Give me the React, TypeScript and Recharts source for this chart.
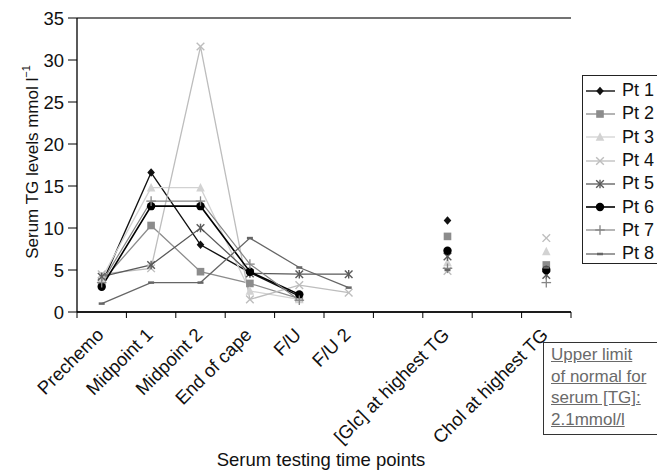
import React from "react";
import { LineChart, Line, XAxis, YAxis, CartesianGrid, Legend, Label } from "recharts";

const categories = [
  "Prechemo",
  "Midpoint 1",
  "Midpoint 2",
  "End of cape",
  "F/U",
  "F/U 2",
  " ",
  "[Glc] at highest TG",
  "  ",
  "Chol at highest TG",
];

const pt1 = [3.3, 16.6, 8.0, 4.7, 1.9, null, null, 10.9, null, 4.8];
const pt2 = [3.6, 10.3, 4.8, 3.4, 1.6, null, null, 9.0, null, 5.6];
const pt3 = [4.0, 14.8, 14.8, 2.5, 1.5, null, null, 5.9, null, 7.2];
const pt4 = [4.5, 5.2, 31.6, 1.5, 3.2, 2.3, null, 4.9, null, 8.8];
const pt5 = [4.2, 5.6, 10.0, 4.6, 4.5, 4.5, null, 6.6, null, 4.4];
const pt6 = [3.0, 12.6, 12.6, 4.8, 2.1, null, null, 7.3, null, 5.0];
const pt7 = [3.5, 13.2, 13.2, 5.7, 1.4, null, null, 5.2, null, 3.5];
const pt8 = [1.0, 3.5, 3.5, 8.8, 5.3, 2.9, null, 5.0, null, 5.3];

const seriesNames = ["Pt 1", "Pt 2", "Pt 3", "Pt 4", "Pt 5", "Pt 6", "Pt 7", "Pt 8"];
const seriesValues = [pt1, pt2, pt3, pt4, pt5, pt6, pt7, pt8];
const yTicks = [0, 5, 10, 15, 20, 25, 30, 35];

// styling per series
const styles = [
  { color: "#111", shape: "diamond", width: 1.4 },
  { color: "#8c8c8c", shape: "square", width: 1.3 },
  { color: "#d2d2d2", shape: "triangle", width: 1.3 },
  { color: "#bdbdbd", shape: "x", width: 1.3 },
  { color: "#5a5a5a", shape: "star", width: 1.3 },
  { color: "#000", shape: "circle", width: 1.6 },
  { color: "#858585", shape: "plus", width: 1.2 },
  { color: "#666", shape: "dash", width: 1.3 },
];

const data = categories.map((c, i) => {
  const row: any = { time: c };
  seriesNames.forEach((n, s) => {
    row[n] = seriesValues[s][i];
  });
  return row;
});

const font = "'Liberation Sans', Arial, sans-serif";

function Marker({ shape, cx, cy, color }: any) {
  if (cx == null || cy == null || isNaN(cx) || isNaN(cy)) return null;
  const r = 3.8;
  switch (shape) {
    case "diamond":
      return (
        <polygon
          points={`${cx},${cy - r - 0.5} ${cx + r},${cy} ${cx},${cy + r + 0.5} ${cx - r},${cy}`}
          fill={color}
        />
      );
    case "square":
      return <rect x={cx - r} y={cy - r} width={2 * r} height={2 * r} fill={color} />;
    case "triangle":
      return (
        <polygon points={`${cx},${cy - r - 1} ${cx + r + 0.5},${cy + r} ${cx - r - 0.5},${cy + r}`} fill={color} />
      );
    case "x":
      return (
        <g stroke={color} strokeWidth={1.4}>
          <line x1={cx - r} y1={cy - r} x2={cx + r} y2={cy + r} />
          <line x1={cx - r} y1={cy + r} x2={cx + r} y2={cy - r} />
        </g>
      );
    case "star":
      return (
        <g stroke={color} strokeWidth={1.4}>
          <line x1={cx - r} y1={cy - r} x2={cx + r} y2={cy + r} />
          <line x1={cx - r} y1={cy + r} x2={cx + r} y2={cy - r} />
          <line x1={cx} y1={cy - r - 0.5} x2={cx} y2={cy + r + 0.5} />
        </g>
      );
    case "circle":
      return <circle cx={cx} cy={cy} r={r + 0.4} fill={color} />;
    case "plus":
      return (
        <g stroke={color} strokeWidth={1.3}>
          <line x1={cx - r - 1} y1={cy} x2={cx + r + 1} y2={cy} />
          <line x1={cx} y1={cy - r - 1} x2={cx} y2={cy + r + 1} />
        </g>
      );
    default:
      return <line x1={cx - 3} y1={cy} x2={cx + 3} y2={cy} stroke={color} strokeWidth={2.5} />;
  }
}

function XTick(props: any) {
  const { x, y, payload } = props;
  const half = payload && payload.offset ? payload.offset : 24.7;
  const label = String(payload.value).trim();
  return (
    <g>
      {payload.index === 0 && <line x1={x - half} x2={x - half} y1={y} y2={y + 6} stroke="#000" />}
      <line x1={x + half} x2={x + half} y1={y} y2={y + 6} stroke="#000" />
      {label && (
        <text
          x={x + 3}
          y={y + 24}
          transform={`rotate(-45 ${x + 3} ${y + 24})`}
          textAnchor="end"
          fontSize={18.5}
          fontFamily={font}
          fill="#111"
        >
          {label}
        </text>
      )}
    </g>
  );
}

function LegendBox() {
  return (
    <div
      style={{
        border: "1px solid #222",
        background: "#fff",
        width: 80,
        height: 189,
        paddingTop: 3,
        boxSizing: "border-box",
        fontFamily: font,
        fontSize: 18,
        color: "#111",
      }}
    >
      {seriesNames.map((n, i) => (
        <div key={n} style={{ height: 23.3, display: "flex", alignItems: "center" }}>
          <svg width={36} height={14} style={{ marginLeft: 1, marginRight: 2 }}>
            <line x1={2} x2={31} y1={7} y2={7} stroke={styles[i].color} strokeWidth={styles[i].width} />
            <Marker shape={styles[i].shape} cx={16} cy={7} color={styles[i].color} />
          </svg>
          <span>{n}</span>
        </div>
      ))}
    </div>
  );
}

export default function App() {
  return (
    <div style={{ position: "relative", width: 657, height: 470, overflow: "hidden", fontFamily: font }}>
      <style>{"body{margin:0}"}</style>
      <LineChart width={657} height={470} data={data} margin={{ top: 18, right: 86, left: 0, bottom: 8 }}>
        <CartesianGrid vertical={false} stroke="#444" strokeWidth={1.3} />
        <XAxis
          dataKey="time"
          scale="band"
          height={150}
          interval={0}
          tickSize={0}
          tickMargin={0}
          tickLine={false}
          axisLine={{ stroke: "#000", strokeWidth: 1.3 }}
          tick={<XTick />}
        >
          <Label
            content={(p: any) => {
              const vb = p.viewBox;
              return (
                <text
                  x={vb.x + vb.width / 2 - 3}
                  y={vb.y + 154}
                  textAnchor="middle"
                  fontSize={18.5}
                  fontFamily={font}
                  fill="#111"
                >
                  Serum testing time points
                </text>
              );
            }}
          />
        </XAxis>
        <YAxis
          yAxisId="l"
          width={77}
          domain={[0, 35]}
          ticks={yTicks}
          interval={0}
          tickSize={9}
          tickMargin={4}
          axisLine={{ stroke: "#000", strokeWidth: 1.3 }}
          tickLine={{ stroke: "#000" }}
          tick={{ fontSize: 18.5, fill: "#111", fontFamily: font }}
        >
          <Label
            content={() => (
              <text
                x={34}
                y={162}
                transform="rotate(-90 34 162)"
                textAnchor="middle"
                dominantBaseline="middle"
                fontSize={17}
                fontFamily={font}
                fill="#111"
              >
                Serum TG levels mmol l
                <tspan dy={-7} fontSize={11}>
                  −1
                </tspan>
              </text>
            )}
          />
        </YAxis>
        <YAxis
          yAxisId="r"
          orientation="right"
          width={0}
          domain={[0, 35]}
          tick={false}
          tickLine={false}
          axisLine={{ stroke: "#000", strokeWidth: 1.3 }}
        />
        <Legend
          layout="vertical"
          align="center"
          verticalAlign="middle"
          wrapperStyle={{ left: 582, top: 75, width: 80, height: 189 }}
          content={() => <LegendBox />}
        />
        {seriesNames.map((n, i) => (
          <Line
            key={n}
            yAxisId="l"
            type="linear"
            dataKey={n}
            stroke={styles[i].color}
            strokeWidth={styles[i].width}
            connectNulls={false}
            isAnimationActive={false}
            dot={(p: any) => (
              <Marker key={`${n}-${p.index}`} shape={styles[i].shape} cx={p.cx} cy={p.cy} color={styles[i].color} />
            )}
            activeDot={false}
          />
        ))}
      </LineChart>
      <div
        style={{
          position: "absolute",
          left: 543,
          top: 342,
          width: 120,
          height: 93,
          border: "1px solid #333",
          boxSizing: "border-box",
          padding: "1px 0 0 7px",
          fontSize: 17,
          lineHeight: "21.7px",
          color: "#6a6a6a",
          textDecoration: "underline",
          background: "#fff",
        }}
      >
        Upper limit
        <br />
        of normal for
        <br />
        serum [TG]:
        <br />
        2.1mmol/l
      </div>
    </div>
  );
}
